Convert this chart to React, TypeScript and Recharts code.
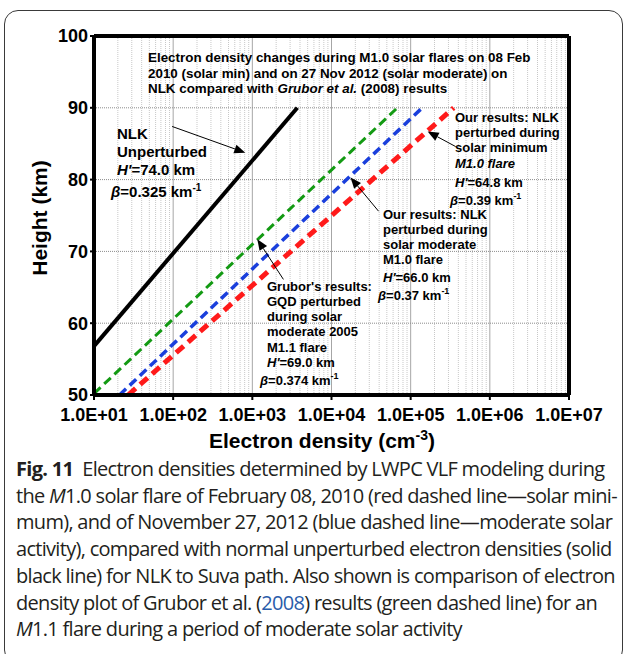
import React from "react";
import { LineChart, Line, XAxis, YAxis, CartesianGrid, ReferenceLine } from "recharts";

// electron density (cm^-3) vs height (km), straight Wait-profile lines
const unperturbedNLK = [
  { ne: 10, h: 56.8 },
  { ne: 3700, h: 90 },
];
const gruborModerate = [
  { ne: 10, h: 50.2 },
  { ne: 68000, h: 90 },
];
const nlkModerate = [
  { ne: 21, h: 50 },
  { ne: 140000, h: 90 },
];
const nlkMinimum = [
  { ne: 27, h: 50 },
  { ne: 350000, h: 90 },
];

const xTicks = [1e1, 1e2, 1e3, 1e4, 1e5, 1e6, 1e7];
const yTicks = [50, 60, 70, 80, 90, 100];
const minorMultipliers = [2, 3, 4, 5, 6, 7, 8, 9];

// arrows: [tail, head] in data coordinates
const arrows = [
  [{ x: 97, y: 87.4 }, { x: 815, y: 83.75 }],
  [{ x: 370000, y: 84.6 }, { x: 164000, y: 86.7 }],
  [{ x: 39300, y: 75.6 }, { x: 17400, y: 80.3 }],
  [{ x: 2470, y: 66.1 }, { x: 1156, y: 71.7 }],
];

const captionLines = [
  "Electron densities determined by LWPC VLF modeling during",
  "solar flare of February 08, 2010 (red dashed line\u2014solar mini-",
  "mum), and of November 27, 2012 (blue dashed line\u2014moderate solar",
  "activity), compared with normal unperturbed electron densities (solid",
  "black line) for NLK to Suva path. Also shown is comparison of electron",
  "results (green dashed line) for an",
  "1.1 flare during a period of moderate solar activity",
];

const formatTick = (v: number) => {
  const e = Math.round(Math.log10(v));
  return `1.0E+${String(e).padStart(2, "0")}`;
};

const ArrowShape = (props: any) => {
  const { x1, y1, x2, y2 } = props;
  const ang = Math.atan2(y2 - y1, x2 - x1);
  const len = 11;
  const w = 4.5;
  const bx = x2 - len * Math.cos(ang);
  const by = y2 - len * Math.sin(ang);
  const px = -Math.sin(ang) * w;
  const py = Math.cos(ang) * w;
  return (
    <g>
      <line x1={x1} y1={y1} x2={bx} y2={by} stroke="#000" strokeWidth={1} />
      <polygon points={`${x2},${y2} ${bx + px},${by + py} ${bx - px},${by - py}`} fill="#000" />
    </g>
  );
};

const bold = { fontFamily: "Liberation Sans, Arial, sans-serif", fontWeight: 700 } as const;

export default function App() {
  const minorTicks = xTicks.slice(0, -1).flatMap((d) => minorMultipliers.map((m) => m * d));
  return (
    <div style={{ position: "fixed", left: 0, top: 0, width: 624, height: 654, overflow: "hidden", background: "#fff" }}>
      <div
        style={{
          position: "absolute",
          left: 4,
          top: 10,
          width: 617,
          height: 652,
          border: "1.3px solid #3a3a3a",
          borderRadius: 14,
        }}
      />
      <div style={{ position: "absolute", left: 0, top: 0 }}>
        <LineChart width={624} height={460} margin={{ top: 36, right: 55, bottom: 10, left: 34 }}>
          {minorTicks.map((m) => (
            <ReferenceLine key={m} x={m} stroke="#c8c8c8" strokeWidth={1} strokeDasharray="1 1" />
          ))}
          <CartesianGrid horizontal={false} stroke="#a6a6a6" strokeWidth={1} />
          <CartesianGrid vertical={false} stroke="#8c8c8c" strokeWidth={1} strokeDasharray="1 1" />
          <XAxis
            type="number"
            dataKey="ne"
            scale="log"
            domain={[10, 1e7]}
            ticks={xTicks}
            allowDataOverflow
            tickFormatter={formatTick}
            tick={{ ...bold, fontSize: 18, fill: "#000" }}
            axisLine={{ stroke: "#000", strokeWidth: 4 }}
            tickLine={{ stroke: "#000", strokeWidth: 2 }}
            tickSize={5}
            tickMargin={8}
            height={55}
          />
          <YAxis
            type="number"
            dataKey="h"
            domain={[50, 100]}
            ticks={yTicks}
            allowDataOverflow
            tick={{ ...bold, fontSize: 18, fill: "#000" }}
            axisLine={{ stroke: "#000", strokeWidth: 4 }}
            tickLine={{ stroke: "#000", strokeWidth: 2 }}
            tickSize={4}
            width={60}
          />
          <ReferenceLine y={100} stroke="#000" strokeWidth={4} />
          <ReferenceLine x={1e7} stroke="#000" strokeWidth={4} />
          <Line data={unperturbedNLK} dataKey="h" stroke="#000" strokeWidth={4} dot={false} isAnimationActive={false} />
          <Line
            data={gruborModerate}
            dataKey="h"
            stroke="#139a13"
            strokeWidth={3}
            strokeDasharray="9 5"
            dot={false}
            isAnimationActive={false}
          />
          <Line
            data={nlkModerate}
            dataKey="h"
            stroke="#1a3fdc"
            strokeWidth={3.5}
            strokeDasharray="9 5"
            dot={false}
            isAnimationActive={false}
          />
          <Line
            data={nlkMinimum}
            dataKey="h"
            stroke="#ff1a1a"
            strokeWidth={5}
            strokeDasharray="10 6"
            dot={false}
            isAnimationActive={false}
          />
          {arrows.map((seg, i) => (
            <ReferenceLine key={i} segment={seg} shape={ArrowShape} />
          ))}
        </LineChart>
      </div>
      <svg width={624} height={460} style={{ position: "absolute", left: 0, top: 0, pointerEvents: "none" }}>
        <g style={bold} fontSize={21} fill="#000">
          <text transform="translate(47,218) rotate(-90)" textAnchor="middle">
            Height (km)
          </text>
          <text x={322} y={448} textAnchor="middle">
            Electron density (cm
            <tspan fontSize={14} dy={-8}>-3</tspan>
            <tspan dy={8}>)</tspan>
          </text>
        </g>
        <g style={bold} fontSize={13.4} fill="#000">
          <text x={148} y={62}>Electron density changes during M1.0 solar flares on 08  Feb</text>
          <text x={148} y={78}>2010 (solar min) and on 27 Nov 2012 (solar moderate) on</text>
          <text x={148} y={93}>
            NLK compared with <tspan fontStyle="italic">Grubor et al.</tspan> (2008) results
          </text>
        </g>
        <g style={bold} fontSize={15} fill="#000">
          <text x={117} y={139}>NLK</text>
          <text x={117} y={157}>Unperturbed</text>
          <text x={117} y={175}>
            <tspan fontStyle="italic">H'</tspan>=74.0 km
          </text>
          <text x={111} y={197}>
            <tspan fontStyle="italic">β</tspan>=0.325 km<tspan fontSize={10} dy={-6}>-1</tspan>
          </text>
        </g>
        <g style={bold} fontSize={13} fill="#000">
          <text x={455} y={122}>Our results: NLK</text>
          <text x={455} y={137}>perturbed during</text>
          <text x={455} y={152}>solar minimum</text>
          <text x={455} y={168} fontStyle="italic">M1.0 flare</text>
          <text x={455} y={187}>
            <tspan fontStyle="italic">H'</tspan>=64.8 km
          </text>
          <text x={450} y={205}>
            <tspan fontStyle="italic">β</tspan>=0.39 km<tspan fontSize={9} dy={-6}>-1</tspan>
          </text>

          <text x={383} y={219}>Our results: NLK</text>
          <text x={383} y={234}>perturbed during</text>
          <text x={383} y={249}>solar moderate</text>
          <text x={383} y={264}>M1.0 flare</text>
          <text x={383} y={282}>
            <tspan fontStyle="italic">H'</tspan>=66.0 km
          </text>
          <text x={378} y={300}>
            <tspan fontStyle="italic">β</tspan>=0.37 km<tspan fontSize={9} dy={-6}>-1</tspan>
          </text>

          <text x={267} y={291}>Grubor's results:</text>
          <text x={267} y={306}>GQD perturbed</text>
          <text x={267} y={321}>during solar</text>
          <text x={267} y={336}>moderate 2005</text>
          <text x={267} y={352}>M1.1 flare</text>
          <text x={267} y={367}>
            <tspan fontStyle="italic">H'</tspan>=69.0 km
          </text>
          <text x={260} y={385}>
            <tspan fontStyle="italic">β</tspan>=0.374 km<tspan fontSize={9} dy={-6}>-1</tspan>
          </text>
        </g>
      </svg>
      <div
        style={{
          position: "absolute",
          left: 16,
          top: 456,
          fontFamily: "Open Sans, sans-serif",
          fontSize: 20,
          lineHeight: "26.7px",
          letterSpacing: -0.7,
          color: "#231f20",
          whiteSpace: "nowrap",
        }}
      >
        <div>
          <b>Fig. 11</b>&nbsp; {captionLines[0]}
        </div>
        <div>
          the <i>M</i>1.0 {captionLines[1]}
        </div>
        <div>{captionLines[2]}</div>
        <div>{captionLines[3]}</div>
        <div>{captionLines[4]}</div>
        <div>
          density plot of Grubor et al. (<span style={{ color: "#2a5caa" }}>2008</span>) {captionLines[5]}
        </div>
        <div>
          <i>M</i>
          {captionLines[6]}
        </div>
      </div>
    </div>
  );
}
